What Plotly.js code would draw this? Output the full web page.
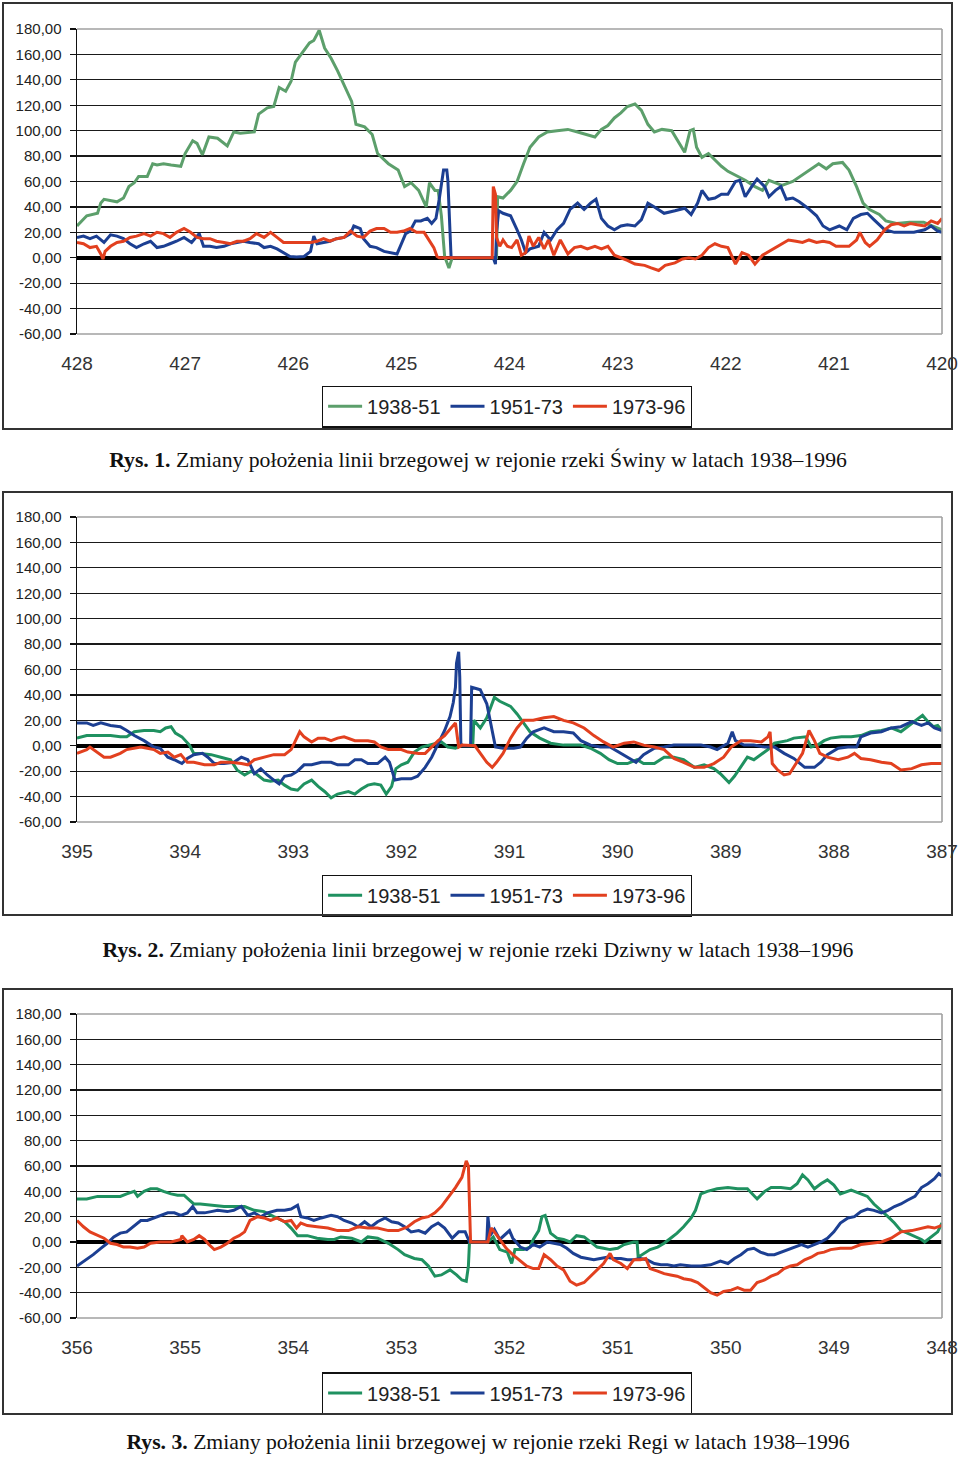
<!DOCTYPE html>
<html>
<head>
<meta charset="utf-8">
<script src="https://cdn.plot.ly/plotly-3.0.1.min.js"></script>
<style>
  html, body { margin:0; padding:0; background:#fff; }
  body { position:relative; width:960px; height:1459px; overflow:hidden; }
  .chart { position:absolute; left:0; width:960px; height:440px; }
  .frame { position:absolute; border:2px solid #333; pointer-events:none; z-index:5; }
  .cap { position:absolute; left:0; width:960px; text-align:center; font-family:"Liberation Serif","Times New Roman",serif; font-size:21.7px; line-height:26px; color:#111; white-space:nowrap; }
  .cap b { font-weight:bold; }
</style>
</head>
<body>
<div id="c1" class="chart" style="top:0px"></div>
<div class="frame" style="left:2px;top:2px;width:947px;height:424px"></div>
<div class="cap" style="top:447px;left:-2px"><b>Rys. 1.</b> Zmiany położenia linii brzegowej w rejonie rzeki Świny w latach 1938–1996</div>

<div id="c2" class="chart" style="top:490px"></div>
<div class="frame" style="left:2px;top:491px;width:947px;height:421px"></div>
<div class="cap" style="top:937px;left:-2px"><b>Rys. 2.</b> Zmiany położenia linii brzegowej w rejonie rzeki Dziwny w latach 1938–1996</div>

<div id="c3" class="chart" style="top:985px"></div>
<div class="frame" style="left:2px;top:988px;width:947px;height:423px"></div>
<div class="cap" style="top:1429px;left:8px"><b>Rys. 3.</b> Zmiany położenia linii brzegowej w rejonie rzeki Regi w latach 1938–1996</div>

<script>
// ---------- shared ----------
const seriesNames = ["1938-51", "1951-73", "1973-96"];
const yTicks = [-60, -40, -20, 0, 20, 40, 60, 80, 100, 120, 140, 160, 180];
const yTickText = ["-60,00", "-40,00", "-20,00", "0,00", "20,00", "40,00", "60,00", "80,00", "100,00", "120,00", "140,00", "160,00", "180,00"];

// ---------- Rys. 1 (Świna), km 428 -> 420 ----------
const p1Ticks = [428, 427, 426, 425, 424, 423, 422, 421, 420];
const p1Green = [[428.00,25],[427.91,33],[427.81,35],[427.78,43],[427.75,46],[427.69,45],[427.63,44],[427.57,47],[427.52,56],[427.47,59],[427.43,64],[427.35,64],[427.30,74],[427.26,73],[427.20,74],[427.13,73],[427.04,72],[427.00,82],[426.93,92],[426.89,90],[426.84,81],[426.78,95],[426.70,94],[426.61,88],[426.55,99],[426.49,98],[426.36,99],[426.32,113],[426.24,118],[426.18,119],[426.13,134],[426.07,131],[426.02,139],[425.98,154],[425.91,162],[425.85,169],[425.81,171],[425.76,179],[425.71,165],[425.65,157],[425.59,147],[425.52,134],[425.46,123],[425.42,105],[425.34,103],[425.27,97],[425.22,82],[425.12,74],[425.03,69],[424.97,56],[424.91,59],[424.84,53],[424.77,40],[424.74,59],[424.69,53],[424.66,53],[424.63,33],[424.60,1],[424.56,-8],[424.53,0],[424.30,0],[424.12,0],[424.11,48],[424.06,47],[423.99,53],[423.93,60],[423.87,74],[423.81,87],[423.73,95],[423.65,99],[423.56,100],[423.46,101],[423.37,99],[423.28,97],[423.21,95],[423.15,101],[423.09,104],[423.03,110],[422.97,114],[422.91,119],[422.84,121],[422.78,116],[422.72,105],[422.66,99],[422.59,101],[422.50,100],[422.44,92],[422.38,83],[422.33,100],[422.30,101],[422.27,87],[422.22,79],[422.16,82],[422.10,77],[422.04,72],[421.98,68],[421.91,65],[421.82,61],[421.73,56],[421.66,53],[421.60,61],[421.54,59],[421.48,57],[421.38,60],[421.29,65],[421.20,70],[421.14,74],[421.07,70],[421.01,74],[420.92,75],[420.86,69],[420.79,56],[420.73,43],[420.67,38],[420.58,34],[420.52,29],[420.42,27],[420.30,28],[420.17,28],[420.09,25],[420.00,22]];
const p1Blue = [[428.00,16],[427.94,17],[427.88,15],[427.82,17],[427.75,12],[427.69,18],[427.63,17],[427.57,15],[427.51,11],[427.45,8],[427.38,11],[427.32,13],[427.26,8],[427.20,9],[427.14,11],[427.08,13],[427.01,16],[426.94,12],[426.87,19],[426.83,9],[426.77,9],[426.71,8],[426.64,9],[426.58,11],[426.52,12],[426.46,13],[426.40,12],[426.32,11],[426.27,8],[426.21,9],[426.15,7],[426.09,4],[426.03,1],[425.97,0.5],[425.90,1],[425.84,5],[425.81,17],[425.78,11],[425.72,12],[425.66,13],[425.60,15],[425.53,16],[425.47,19],[425.44,25],[425.38,23],[425.35,15],[425.29,9],[425.23,8],[425.16,5],[425.10,4],[425.04,3],[425.01,9],[424.96,19],[424.92,21],[424.87,29],[424.82,29],[424.76,31],[424.72,27],[424.68,31],[424.65,46],[424.61,69],[424.58,69],[424.57,61],[424.55,20],[424.54,0],[424.15,0],[424.13,-5],[424.12,20],[424.10,37],[424.06,35],[423.99,33],[423.93,22],[423.89,14],[423.85,4],[423.81,7],[423.73,9],[423.68,20],[423.62,14],[423.56,22],[423.50,27],[423.44,38],[423.37,43],[423.31,38],[423.25,43],[423.20,46],[423.15,31],[423.09,25],[423.03,22],[422.97,25],[422.91,26],[422.84,25],[422.78,30],[422.72,43],[422.66,40],[422.57,35],[422.47,37],[422.38,39],[422.32,34],[422.26,43],[422.22,53],[422.16,46],[422.10,47],[422.04,50],[421.98,50],[421.91,60],[421.87,61],[421.82,48],[421.76,56],[421.71,62],[421.64,56],[421.60,48],[421.54,53],[421.49,56],[421.44,46],[421.38,47],[421.32,44],[421.24,39],[421.16,33],[421.10,25],[421.04,22],[420.95,25],[420.88,22],[420.82,31],[420.75,34],[420.69,35],[420.63,30],[420.53,22],[420.44,20],[420.35,20],[420.26,20],[420.16,22],[420.10,25],[420.04,21],[420.00,20]];
const p1Red = [[428.00,12],[427.94,11],[427.88,8],[427.82,9],[427.78,3],[427.76,-1],[427.74,5],[427.69,9],[427.63,12],[427.57,13],[427.51,16],[427.45,17],[427.38,19],[427.32,17],[427.26,20],[427.20,19],[427.14,16],[427.08,20],[427.01,23],[426.95,20],[426.89,16],[426.83,15],[426.77,15],[426.71,13],[426.64,12],[426.58,11],[426.52,13],[426.46,13],[426.40,15],[426.34,19],[426.27,16],[426.21,20],[426.15,16],[426.09,12],[426.03,12],[425.97,12],[425.90,12],[425.84,12],[425.78,13],[425.72,15],[425.66,13],[425.60,15],[425.53,16],[425.47,21],[425.41,17],[425.35,16],[425.29,21],[425.23,23],[425.16,23],[425.10,20],[425.04,20],[424.98,21],[424.92,23],[424.86,20],[424.79,20],[424.75,15],[424.70,8],[424.67,1],[424.65,0],[424.16,0],[424.15,56],[424.13,50],[424.12,16],[424.09,9],[424.06,14],[424.02,9],[423.98,8],[423.93,14],[423.89,2],[423.85,4],[423.82,17],[423.78,9],[423.73,16],[423.68,7],[423.64,14],[423.59,2],[423.53,14],[423.46,3],[423.40,8],[423.34,9],[423.28,7],[423.21,9],[423.15,7],[423.09,9],[423.03,2],[422.97,0],[422.91,-2],[422.84,-5],[422.75,-6],[422.69,-8],[422.62,-10],[422.56,-6],[422.47,-4],[422.40,-1],[422.34,0],[422.28,-1],[422.22,2],[422.16,8],[422.10,11],[422.04,9],[421.98,8],[421.91,-5],[421.85,4],[421.79,2],[421.73,-5],[421.66,2],[421.60,5],[421.54,8],[421.48,11],[421.42,14],[421.35,13],[421.29,12],[421.23,14],[421.16,12],[421.10,13],[421.04,12],[420.98,9],[420.92,9],[420.86,9],[420.79,14],[420.76,20],[420.71,12],[420.67,9],[420.60,14],[420.53,22],[420.47,26],[420.41,27],[420.35,25],[420.29,27],[420.23,26],[420.16,25],[420.10,29],[420.04,27],[420.00,31]];

// ---------- Rys. 2 (Dziwna), km 395 -> 387 ----------
const p2Ticks = [395, 394, 393, 392, 391, 390, 389, 388, 387];
const p2Green = [[395.00,6],[394.91,8],[394.78,8],[394.69,8],[394.60,7],[394.54,7],[394.47,11],[394.38,12],[394.29,12],[394.23,11],[394.18,14],[394.13,15],[394.09,10],[394.03,7],[393.96,0.5],[393.92,-6],[393.86,-6],[393.76,-7],[393.67,-9],[393.58,-11],[393.52,-19],[393.45,-23],[393.39,-20],[393.33,-23],[393.27,-27],[393.21,-28],[393.14,-27],[393.08,-31],[393.02,-34],[392.96,-35],[392.90,-30],[392.83,-27],[392.77,-32],[392.71,-36],[392.65,-41],[392.59,-38],[392.49,-36],[392.43,-38],[392.37,-34],[392.31,-31],[392.25,-30],[392.19,-31],[392.14,-38],[392.09,-32],[392.05,-18],[392.00,-15],[391.94,-13],[391.88,-5],[391.81,-1],[391.75,0.5],[391.69,2],[391.63,3],[391.57,-1],[391.50,-2],[391.45,0],[391.34,0],[391.33,20],[391.27,14],[391.21,22],[391.14,38],[391.09,35],[390.99,31],[390.93,25],[390.87,18],[390.81,11],[390.72,6],[390.62,2],[390.50,0.5],[390.34,0.5],[390.25,-2],[390.16,-6],[390.08,-11],[390.00,-14],[389.91,-14],[389.82,-11],[389.76,-14],[389.66,-14],[389.57,-9],[389.48,-9],[389.39,-11],[389.29,-17],[389.20,-15],[389.11,-18],[389.05,-22],[388.97,-29],[388.92,-24],[388.86,-17],[388.80,-9],[388.74,-11],[388.68,-7],[388.61,-3],[388.55,2],[388.49,3],[388.43,4],[388.37,6],[388.30,7],[388.26,7],[388.21,-1],[388.15,0.5],[388.09,4],[388.03,6],[387.93,7],[387.84,7],[387.75,8],[387.66,11],[387.56,12],[387.47,14],[387.38,11],[387.30,16],[387.24,20],[387.18,24],[387.13,19],[387.08,15],[387.04,16],[387.00,12]];
const p2Blue = [[395.00,18],[394.91,18],[394.85,16],[394.78,18],[394.69,16],[394.60,15],[394.54,12],[394.47,8],[394.38,4],[394.29,-1],[394.23,-2],[394.16,-9],[394.10,-11],[394.03,-14],[393.98,-10],[393.92,-7],[393.84,-6],[393.79,-9],[393.73,-14],[393.64,-14],[393.55,-13],[393.48,-9],[393.42,-11],[393.36,-22],[393.30,-18],[393.24,-23],[393.18,-27],[393.13,-30],[393.08,-24],[393.02,-23],[392.96,-20],[392.90,-15],[392.83,-15],[392.74,-13],[392.65,-13],[392.59,-15],[392.49,-15],[392.43,-11],[392.37,-11],[392.31,-14],[392.22,-14],[392.15,-9],[392.11,-13],[392.06,-27],[392.00,-26],[391.91,-26],[391.85,-24],[391.78,-17],[391.72,-9],[391.66,2],[391.60,12],[391.55,23],[391.52,34],[391.50,46],[391.49,65],[391.47,74],[391.46,54],[391.45,2],[391.44,0],[391.36,0],[391.35,46],[391.31,45],[391.27,44],[391.21,33],[391.16,12],[391.13,-1],[391.06,-2],[390.96,-2],[390.90,-1],[390.84,6],[390.78,11],[390.68,14],[390.59,11],[390.50,11],[390.41,10],[390.34,4],[390.25,0.5],[390.16,-1],[390.07,-1],[389.97,-6],[389.90,-9],[389.83,-13],[389.76,-7],[389.66,-2],[389.57,-1],[389.48,0.5],[389.36,0.5],[389.23,0.5],[389.14,-1],[389.08,-3],[388.98,2],[388.94,11],[388.91,4],[388.83,0.5],[388.74,0.5],[388.64,-1],[388.55,-1],[388.46,-6],[388.37,-10],[388.27,-17],[388.18,-17],[388.12,-13],[388.06,-7],[387.96,-2],[387.87,-1],[387.79,-1],[387.75,7],[387.66,10],[387.56,11],[387.47,14],[387.38,15],[387.28,19],[387.19,16],[387.13,18],[387.07,14],[387.00,12]];
const p2Red = [[395.00,-6],[394.91,-3],[394.88,-1],[394.81,-5],[394.75,-9],[394.69,-9],[394.60,-6],[394.54,-3],[394.47,-2],[394.41,-1],[394.35,-2],[394.29,-3],[394.23,-6],[394.16,-5],[394.10,-9],[394.04,-7],[393.98,-13],[393.92,-13],[393.82,-15],[393.73,-15],[393.67,-13],[393.58,-13],[393.48,-14],[393.42,-15],[393.36,-11],[393.27,-9],[393.18,-7],[393.08,-7],[393.02,-3],[392.99,2],[392.94,11],[392.90,7],[392.83,3],[392.77,6],[392.71,6],[392.65,4],[392.59,6],[392.53,7],[392.43,4],[392.37,4],[392.31,4],[392.25,3],[392.19,-1],[392.12,-3],[392.06,-3],[392.00,-3],[391.94,-5],[391.84,-6],[391.78,-6],[391.72,-1],[391.66,4],[391.60,8],[391.54,14],[391.50,18],[391.47,-1],[391.44,0.5],[391.32,0],[391.27,-6],[391.21,-13],[391.16,-17],[391.12,-13],[391.06,-6],[390.99,6],[390.93,14],[390.87,20],[390.78,20],[390.68,22],[390.59,23],[390.50,20],[390.41,18],[390.31,14],[390.22,8],[390.13,3],[390.04,-1],[389.94,2],[389.85,3],[389.76,0.5],[389.66,-1],[389.57,-3],[389.48,-10],[389.39,-13],[389.29,-17],[389.20,-17],[389.11,-14],[389.02,-9],[388.95,-1],[388.86,4],[388.77,4],[388.67,3],[388.61,7],[388.59,11],[388.57,-14],[388.52,-19],[388.46,-23],[388.41,-22],[388.35,-14],[388.29,-6],[388.23,12],[388.18,4],[388.13,-6],[388.06,-9],[387.96,-11],[387.87,-9],[387.81,-6],[387.75,-10],[387.66,-11],[387.56,-13],[387.47,-14],[387.38,-19],[387.28,-18],[387.19,-15],[387.10,-14],[387.00,-14]];

// ---------- Rys. 3 (Rega), km 356 -> 348 ----------
const p3Ticks = [356, 355, 354, 353, 352, 351, 350, 349, 348];
const p3Green = [[356.00,34],[355.91,34],[355.81,36],[355.69,36],[355.60,36],[355.54,38],[355.47,40],[355.44,36],[355.38,40],[355.32,42],[355.26,42],[355.20,40],[355.13,38],[355.07,37],[355.01,37],[354.96,33],[354.92,30],[354.86,30],[354.73,29],[354.64,28],[354.55,28],[354.45,28],[354.36,25],[354.27,24],[354.18,20],[354.08,16],[354.02,11],[353.96,5],[353.87,5],[353.78,3],[353.68,2],[353.62,2],[353.56,4],[353.46,3],[353.37,0],[353.31,4],[353.22,3],[353.12,-1],[353.03,-6],[352.97,-10],[352.88,-13],[352.81,-14],[352.75,-19],[352.69,-27],[352.63,-26],[352.55,-22],[352.49,-26],[352.44,-30],[352.40,-31],[352.38,-19],[352.37,0],[352.20,0],[352.15,4],[352.09,-6],[352.02,-8],[351.98,-17],[351.95,-6],[351.87,-6],[351.81,-4],[351.78,2],[351.73,9],[351.70,20],[351.67,21],[351.62,7],[351.56,3],[351.50,2],[351.44,0],[351.38,5],[351.31,4],[351.25,0],[351.19,-4],[351.13,-5],[351.07,-6],[351.00,-5],[350.94,-2],[350.85,0],[350.82,0],[350.81,-12],[350.76,-9],[350.70,-6],[350.63,-4],[350.57,-1],[350.51,3],[350.45,7],[350.39,12],[350.32,19],[350.28,25],[350.23,38],[350.17,40],[350.08,42],[349.98,43],[349.89,42],[349.80,42],[349.75,38],[349.71,34],[349.64,40],[349.58,43],[349.49,43],[349.40,42],[349.34,46],[349.29,53],[349.24,49],[349.18,42],[349.12,46],[349.06,49],[349.00,45],[348.94,38],[348.84,41],[348.75,38],[348.69,36],[348.63,30],[348.56,25],[348.50,20],[348.44,15],[348.38,9],[348.32,7],[348.25,4],[348.19,2],[348.16,0],[348.10,4],[348.04,8],[348.00,15]];
const p3Blue = [[356.00,-19],[355.91,-14],[355.85,-10],[355.78,-5],[355.72,-1],[355.66,4],[355.60,7],[355.54,8],[355.47,13],[355.41,17],[355.35,17],[355.29,19],[355.23,21],[355.16,23],[355.10,23],[355.04,21],[354.98,23],[354.93,28],[354.89,23],[354.82,23],[354.76,24],[354.70,25],[354.61,24],[354.55,25],[354.48,28],[354.42,21],[354.36,23],[354.30,20],[354.24,23],[354.15,25],[354.08,25],[354.02,26],[353.96,29],[353.93,20],[353.87,19],[353.81,17],[353.74,19],[353.65,21],[353.59,20],[353.53,17],[353.46,15],[353.40,12],[353.34,16],[353.28,12],[353.22,16],[353.15,19],[353.09,16],[353.03,15],[352.97,12],[352.91,8],[352.84,9],[352.78,7],[352.72,12],[352.66,15],[352.60,11],[352.53,3],[352.47,8],[352.41,8],[352.38,2],[352.37,0],[352.21,0],[352.20,20],[352.18,5],[352.14,10],[352.09,2],[352.05,5],[352.00,9],[351.97,3],[351.90,-4],[351.84,-6],[351.78,-2],[351.72,-4],[351.65,0],[351.59,-1],[351.53,-2],[351.47,-5],[351.41,-9],[351.34,-12],[351.28,-13],[351.22,-14],[351.16,-13],[351.10,-12],[351.04,-13],[350.97,-13],[350.91,-14],[350.85,-14],[350.79,-13],[350.73,-14],[350.66,-17],[350.60,-18],[350.54,-18],[350.48,-19],[350.42,-18],[350.32,-19],[350.23,-19],[350.14,-18],[350.05,-15],[349.98,-17],[349.92,-13],[349.86,-10],[349.80,-6],[349.74,-5],[349.68,-8],[349.61,-10],[349.55,-10],[349.49,-8],[349.43,-6],[349.37,-4],[349.30,-2],[349.24,-4],[349.18,-2],[349.12,0],[349.06,3],[349.00,8],[348.94,15],[348.87,19],[348.81,20],[348.75,24],[348.69,26],[348.63,25],[348.56,23],[348.50,25],[348.44,28],[348.38,30],[348.32,33],[348.25,36],[348.19,43],[348.13,46],[348.07,50],[348.03,54],[348.00,52]];
const p3Red = [[356.00,17],[355.94,12],[355.88,8],[355.81,5],[355.75,3],[355.69,-1],[355.63,-2],[355.57,-4],[355.51,-4],[355.44,-5],[355.38,-4],[355.32,-1],[355.23,0],[355.13,0],[355.04,2],[355.03,5],[354.98,0],[354.92,2],[354.87,5],[354.82,2],[354.78,-2],[354.73,-6],[354.67,-4],[354.61,-1],[354.55,3],[354.50,5],[354.45,8],[354.40,17],[354.33,20],[354.27,19],[354.21,17],[354.15,19],[354.08,16],[354.02,17],[353.97,11],[353.93,15],[353.87,13],[353.78,12],[353.68,11],[353.59,9],[353.49,9],[353.40,12],[353.31,11],[353.22,11],[353.12,9],[353.03,9],[352.94,12],[352.88,16],[352.81,19],[352.75,20],[352.69,23],[352.63,28],[352.56,36],[352.50,43],[352.44,51],[352.40,64],[352.38,60],[352.37,30],[352.36,0],[352.20,0],[352.17,11],[352.14,8],[352.09,2],[352.03,-5],[351.97,-10],[351.91,-14],[351.84,-19],[351.78,-21],[351.73,-21],[351.68,-10],[351.62,-14],[351.56,-19],[351.50,-22],[351.44,-31],[351.38,-34],[351.31,-32],[351.25,-27],[351.19,-22],[351.13,-17],[351.07,-9],[351.04,-14],[350.97,-17],[350.91,-21],[350.85,-14],[350.79,-14],[350.74,-13],[350.70,-21],[350.63,-23],[350.57,-25],[350.51,-26],[350.45,-27],[350.39,-29],[350.32,-30],[350.26,-32],[350.20,-36],[350.14,-40],[350.08,-42],[350.02,-39],[349.95,-38],[349.89,-36],[349.83,-38],[349.77,-38],[349.71,-32],[349.64,-30],[349.58,-27],[349.52,-25],[349.46,-21],[349.40,-19],[349.34,-18],[349.27,-14],[349.21,-12],[349.15,-9],[349.09,-8],[349.03,-6],[348.94,-5],[348.84,-5],[348.75,-2],[348.66,-1],[348.56,0],[348.47,3],[348.38,8],[348.28,9],[348.19,11],[348.13,12],[348.07,11],[348.00,13]];

// ---------- drawing ----------
const FONT = '"Liberation Sans", Arial, sans-serif';

function trace(pairs, name, color) {
  return {
    type: 'scatter', mode: 'lines', name: name,
    x: pairs.map(p => p[0]), y: pairs.map(p => p[1]),
    line: { color: color, width: 3 }
  };
}

function draw(id, ticks, series, colors, m, legY) {
  const data = series.map((s, i) => trace(s, seriesNames[i], colors[i]));
  const layout = {
    width: 960, height: 440,
    margin: { l: 77, r: 18, t: m.t, b: m.b, pad: 0 },
    paper_bgcolor: 'rgba(0,0,0,0)', plot_bgcolor: '#ffffff',
    font: { family: FONT, color: '#222' },
    showlegend: true,
    legend: {
      orientation: 'h', x: 0.497, xanchor: 'center', y: legY, yanchor: 'middle',
      bordercolor: '#111', borderwidth: 1.2, bgcolor: '#fff',
      font: { family: FONT, size: 20, color: '#222' }, itemwidth: 34
    },
    xaxis: {
      range: [ticks[0], ticks[ticks.length - 1]],
      tickvals: ticks, ticktext: ticks.map(String),
      showgrid: false, zeroline: false, showline: false, ticks: '',
      ticklabelstandoff: 16,
      tickfont: { family: FONT, size: 19, color: '#333' }
    },
    yaxis: {
      range: [-60, 180], tickvals: yTicks, ticktext: yTickText,
      showgrid: true, gridcolor: '#1a1a1a', gridwidth: 1.2,
      zeroline: true, zerolinecolor: '#000', zerolinewidth: 3.5,
      showline: true, linecolor: '#111', linewidth: 1.5,
      ticks: 'outside', ticklen: 6, tickcolor: '#111', tickwidth: 1.2,
      ticklabelstandoff: 5,
      tickfont: { family: FONT, size: 15, color: '#222' }
    },
    shapes: [
      { type: 'line', xref: 'paper', yref: 'paper', x0: 0, x1: 1, y0: 1, y1: 1, line: { color: '#a0a0a0', width: 1.6 }, layer: 'above' },
      { type: 'line', xref: 'paper', yref: 'paper', x0: 1, x1: 1, y0: 0, y1: 1, line: { color: '#a0a0a0', width: 1.6 }, layer: 'above' },
      { type: 'line', xref: 'paper', yref: 'paper', x0: 0, x1: 1, y0: 0, y1: 0, line: { color: '#a0a0a0', width: 1.6 }, layer: 'above' }
    ]
  };
  Plotly.newPlot(id, data, layout, { staticPlot: true, displayModeBar: false });
}

draw('c1', p1Ticks, [p1Green, p1Blue, p1Red], ['#5c9f6b', '#1c3f92', '#e2401f'], { t: 29, b: 104 }, -0.238);
draw('c2', p2Ticks, [p2Green, p2Blue, p2Red], ['#1f9160', '#1c3f92', '#e2401f'], { t: 27, b: 108 }, -0.241);
draw('c3', p3Ticks, [p3Green, p3Blue, p3Red], ['#1f9160', '#1c3f92', '#e2401f'], { t: 29, b: 106 }, -0.244);
</script>
</body>
</html>
